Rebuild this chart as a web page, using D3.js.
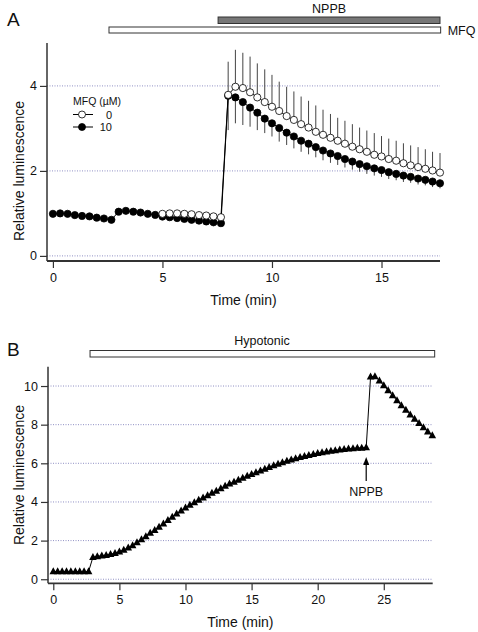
<!DOCTYPE html>
<html><head><meta charset="utf-8">
<script src="https://cdn.jsdelivr.net/npm/d3@7/dist/d3.min.js"></script>
<style>body{margin:0;background:#fff}svg{display:block}text{font-family:"Liberation Sans",Arial,sans-serif;fill:#111}</style>
</head><body>
<svg id="c" width="478" height="632"></svg>
<script>
// ---------- Panel A data ----------
const timesA = [0,0.33,0.67,1,1.33,1.67,2,2.33,2.67,3,3.33,3.67,4,4.33,4.67,5,5.33,5.67,6,6.33,6.67,7,7.33,7.67,8,8.33,8.67,9,9.33,9.67,10,10.33,10.67,11,11.33,11.67,12,12.33,12.67,13,13.33,13.67,14,14.33,14.67,15,15.33,15.67,16,16.33,16.67,17,17.33,17.67];
const mfq10 = [0.99,1.00,0.99,0.96,0.94,0.93,0.90,0.88,0.85,
  1.04,1.06,1.04,1.02,0.99,0.965,0.925,0.91,0.89,0.87,0.85,0.83,0.81,0.79,0.77,
  3.77,3.73,3.62,3.49,3.37,3.23,3.12,3.01,2.90,2.81,2.71,2.64,2.56,2.48,2.41,2.35,2.28,2.22,2.16,2.11,2.06,2.02,1.97,1.93,1.89,1.86,1.82,1.79,1.75,1.71];
const mfq10Err = [0,0,0,0,0,0,0,0,0, 0,0,0,0,0,0,0,0,0,0,0,0,0,0,0,
  0.81,0.61,0.54,0.45,0.41,0.34,0.31,0.32,0.29,0.28,0.26,0.25,0.24,0.23,0.22,0.21,0.20,0.19,0.18,0.18,0.17,0.16,0.16,0.15,0.15,0.14,0.14,0.13,0.13,0.12];
const timesA0 = [5,5.33,5.67,6,6.33,6.67,7,7.33,7.67,8,8.33,8.67,9,9.33,9.67,10,10.33,10.67,11,11.33,11.67,12,12.33,12.67,13,13.33,13.67,14,14.33,14.67,15,15.33,15.67,16,16.33,16.67,17,17.33,17.67];
const mfq0 = [0.99,1.00,1.00,0.99,0.98,0.96,0.95,0.93,0.91,
  3.79,3.98,3.95,3.85,3.73,3.62,3.51,3.41,3.29,3.20,3.10,3.02,2.92,2.85,2.78,2.71,2.64,2.57,2.51,2.45,2.38,2.34,2.28,2.24,2.18,2.13,2.09,2.05,2.01,1.96];
const mfq0Err = [0,0,0,0,0,0,0,0,0,
  0.78,0.87,0.83,0.84,0.80,0.77,0.75,0.69,0.69,0.67,0.65,0.63,0.62,0.59,0.56,0.54,0.54,0.53,0.51,0.50,0.51,0.48,0.48,0.47,0.47,0.47,0.47,0.46,0.44,0.46];
const ticksAx = [0,5,10,15];
const ticksAy = [0,2,4];
const barNPPB = [7.54,17.67];
const barMFQ = [2.56,17.70];
const legendLabels = ["0","10"];

// ---------- Panel B data ----------
const timesB = [0,0.33,0.67,1,1.33,1.67,2,2.33,2.67,3,3.33,3.67,4,4.33,4.67,5,5.33,5.67,6,6.33,6.67,7,7.33,7.67,8,8.33,8.67,9,9.33,9.67,10,10.33,10.67,11,11.33,11.67,12,12.33,12.67,13,13.33,13.67,14,14.33,14.67,15,15.33,15.67,16,16.33,16.67,17,17.33,17.67,18,18.33,18.67,19,19.33,19.67,20,20.33,20.67,21,21.33,21.67,22,22.33,22.67,23,23.33,23.67,24,24.33,24.67,25,25.33,25.67,26,26.33,26.67,27,27.33,27.67,28,28.33,28.67];
const hypo = [0.40,0.40,0.40,0.40,0.40,0.40,0.40,0.40,0.40,
  1.14,1.18,1.22,1.25,1.29,1.35,1.43,1.52,1.63,1.75,1.90,2.06,2.22,2.39,2.54,2.70,2.88,3.06,3.23,3.39,3.55,3.70,3.84,3.98,4.10,4.22,4.34,4.46,4.57,4.70,4.83,4.94,5.04,5.14,5.24,5.34,5.44,5.53,5.62,5.71,5.80,5.89,5.97,6.05,6.12,6.19,6.25,6.31,6.37,6.42,6.47,6.52,6.56,6.60,6.64,6.67,6.70,6.73,6.75,6.77,6.79,6.80,6.82,
  10.48,10.50,10.28,10.03,9.77,9.51,9.25,9.00,8.76,8.52,8.29,8.07,7.85,7.64,7.44];
const ticksBx = [0,5,10,15,20,25];
const ticksBy = [0,2,4,6,8,10];
const barHypo = [2.78,28.85];
const nppbArrowT = 23.67;

const svg = d3.select("#c");
const axisCol = "#333", gridCol = "#9090c4";

function panel(o){
  const g = svg.append("g");
  const x = d3.scaleLinear().domain(o.xd).range(o.xr);
  const y = d3.scaleLinear().domain(o.yd).range(o.yr);
  g.selectAll(".grid").data(o.yt).join("line")
    .attr("x1", o.xr[0]).attr("x2", o.xr[1])
    .attr("y1", d=>y(d)).attr("y2", d=>y(d))
    .attr("stroke", gridCol).attr("stroke-width", 1).attr("stroke-dasharray","1,1.5");
  const ya = d3.axisLeft(y).tickValues(o.yt).tickSize(7).tickPadding(3).tickFormat(d3.format("d"));
  const xa = d3.axisBottom(x).tickValues(o.xt).tickSize(7).tickPadding(5).tickFormat(d3.format("d"));
  const gy = g.append("g").attr("transform",`translate(${o.xr[0]},0)`).call(ya);
  const gx = g.append("g").attr("transform",`translate(0,${o.yr[0]})`).call(xa);
  [gx,gy].forEach(a=>{
    a.select(".domain").remove();
    a.selectAll(".tick line").attr("stroke", axisCol).attr("stroke-width",1.2);
    a.selectAll(".tick text").attr("font-size","12.5px").attr("font-family","Liberation Sans, Arial").attr("fill","#111");
  });
  g.append("line").attr("x1",o.xr[0]).attr("x2",o.xr[0]).attr("y1",o.yr[0]).attr("y2",o.yr[1]).attr("stroke",axisCol).attr("stroke-width",1.5);
  g.append("line").attr("x1",o.xr[0]).attr("x2",o.xr[1]).attr("y1",o.yr[0]).attr("y2",o.yr[0]).attr("stroke",axisCol).attr("stroke-width",1.8);
  g.append("text").attr("x",(o.xr[0]+o.xr[1])/2).attr("y",o.xtY).attr("text-anchor","middle").attr("font-size","14px").text("Time (min)");
  g.append("text").attr("transform",`translate(${o.ytX},${o.ytY}) rotate(-90)`).attr("text-anchor","middle").attr("font-size","14px").text("Relative luminescence");
  g.append("text").attr("x",7).attr("y",o.labY).attr("font-size","19px").text(o.label);
  return {g,x,y};
}

// ---------- Panel A ----------
const A = panel({xd:[-0.27,17.67], xr:[47,440], yd:[-0.12,5.01], yr:[261,43], xt:ticksAx, yt:ticksAy,
  xtY:305, ytX:24, ytY:171, labY:26, label:"A"});
{
  const {g,x,y} = A;
  g.append("rect").attr("x",x(barNPPB[0])).attr("y",17).attr("width",x(barNPPB[1])-x(barNPPB[0])).attr("height",6.5)
    .attr("fill","#777").attr("stroke","#333").attr("stroke-width",1);
  g.append("text").attr("x",(x(barNPPB[0])+x(barNPPB[1]))/2).attr("y",13).attr("text-anchor","middle").attr("font-size","12.5px").text("NPPB");
  g.append("rect").attr("x",x(barMFQ[0])).attr("y",27).attr("width",x(barMFQ[1])-x(barMFQ[0])).attr("height",6)
    .attr("fill","#fff").attr("stroke","#333").attr("stroke-width",1);
  g.append("text").attr("x",x(barMFQ[1])+7).attr("y",35).attr("font-size","12.5px").text("MFQ");

  const d10 = timesA.map((t,i)=>({t,v:mfq10[i],e:mfq10Err[i]}));
  const d0 = timesA0.map((t,i)=>({t,v:mfq0[i],e:mfq0Err[i]}));
  g.selectAll(".e0").data(d0.filter(d=>d.e>0)).join("line")
    .attr("x1",d=>x(d.t)).attr("x2",d=>x(d.t)).attr("y1",d=>y(d.v)).attr("y2",d=>y(d.v+d.e))
    .attr("stroke","#444").attr("stroke-width",1);
  g.selectAll(".e10").data(d10.filter(d=>d.e>0)).join("line")
    .attr("x1",d=>x(d.t)).attr("x2",d=>x(d.t)).attr("y1",d=>y(d.v)).attr("y2",d=>y(d.v-d.e))
    .attr("stroke","#444").attr("stroke-width",1);
  const line = d3.line().x(d=>x(d.t)).y(d=>y(d.v));
  g.append("path").attr("d",line(d10)).attr("fill","none").attr("stroke","#000").attr("stroke-width",1);
  g.append("path").attr("d",line(d0)).attr("fill","none").attr("stroke","#000").attr("stroke-width",1);
  g.selectAll(".c10").data(d10).join("circle").attr("cx",d=>x(d.t)).attr("cy",d=>y(d.v)).attr("r",3.6)
    .attr("fill","#000").attr("stroke","#000").attr("stroke-width",0.8);
  g.selectAll(".c0").data(d0).join("circle").attr("cx",d=>x(d.t)).attr("cy",d=>y(d.v)).attr("r",3.6)
    .attr("fill","#fff").attr("stroke","#000").attr("stroke-width",0.8);
  g.append("text").attr("x",73).attr("y",105).attr("font-size","10.5px").text("MFQ (\u00B5M)");
  [{lab:legendLabels[0],fill:"#fff",yy:114.5},{lab:legendLabels[1],fill:"#000",yy:127}].forEach(L=>{
    g.append("line").attr("x1",73).attr("x2",93).attr("y1",L.yy).attr("y2",L.yy).attr("stroke","#000").attr("stroke-width",1);
    g.append("circle").attr("cx",82).attr("cy",L.yy).attr("r",3.5).attr("fill",L.fill).attr("stroke","#000").attr("stroke-width",0.8);
    g.append("text").attr("x",112).attr("y",L.yy+4).attr("text-anchor","end").attr("font-size","11px").text(L.lab);
  });
}

// ---------- Panel B ----------
const B = panel({xd:[-0.4,28.7], xr:[48,432.7], yd:[-0.21,11.0], yr:[583.3,366.7], xt:ticksBx, yt:ticksBy,
  xtY:627, ytX:24, ytY:475, labY:356, label:"B"});
{
  const {g,x,y} = B;
  g.append("rect").attr("x",x(barHypo[0])).attr("y",350.5).attr("width",x(barHypo[1])-x(barHypo[0])).attr("height",6.5)
    .attr("fill","#fff").attr("stroke","#333").attr("stroke-width",1);
  g.append("text").attr("x",262).attr("y",345).attr("text-anchor","middle").attr("font-size","12.5px").text("Hypotonic");
  const dB = timesB.map((t,i)=>({t,v:hypo[i]}));
  g.append("path").attr("d",d3.line().x(d=>x(d.t)).y(d=>y(d.v))(dB)).attr("fill","none").attr("stroke","#000").attr("stroke-width",1);
  const tri = "M0,-4.2L3.8,2.8L-3.8,2.8Z";
  g.selectAll(".tri").data(dB).join("path").attr("d",tri)
    .attr("transform",d=>`translate(${x(d.t)},${y(d.v)})`).attr("fill","#000");
  const ax = x(nppbArrowT);
  g.append("line").attr("x1",ax).attr("x2",ax).attr("y1",481).attr("y2",461).attr("stroke","#000").attr("stroke-width",1.2);
  g.append("path").attr("d",`M${ax},457L${ax+3},465L${ax-3},465Z`).attr("fill","#000");
  g.append("text").attr("x",ax).attr("y",496).attr("text-anchor","middle").attr("font-size","12.5px").text("NPPB");
}
</script>
</body></html>
